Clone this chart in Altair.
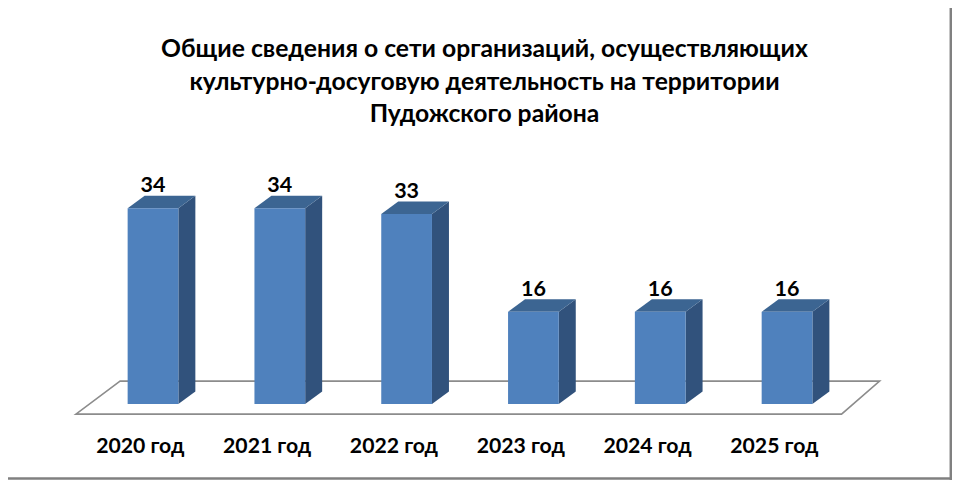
import altair as alt
import pandas as pd

categories = ["2020 год", "2021 год", "2022 год", "2023 год", "2024 год", "2025 год"]
values = [34, 34, 33, 16, 16, 16]
title_lines = [
    "Общие сведения о сети организаций, осуществляющих",
    "культурно-досуговую деятельность на территории",
    "Пудожского района",
]

FONT = "Lato"
# geometry of the pseudo-3D look, in data units
HALF = 0.2
DX = 0.134
DY = 2.17
x_scale = alt.Scale(domain=[-1.1435, 6.301], range=[0, 944], nice=False, zero=False)
y_scale = alt.Scale(domain=[-13.19, 68.75], range=[472, 0], nice=False, zero=False)
X = alt.X("x:Q", scale=x_scale, axis=None)
Y = alt.Y("y:Q", scale=y_scale, axis=None)

side, top, front = [], [], []
for i, (c, v) in enumerate(zip(categories, values)):
    l, r = i - HALF, i + HALF
    front.append({"c": c, "x": l, "x2": r, "y": v, "y2": 0})
    side.append({"c": c, "x": r, "y": v, "y2": 0})
    side.append({"c": c, "x": r + DX, "y": v + DY, "y2": DY})
    top.append({"c": c, "y": v, "x": l, "x2": r})
    top.append({"c": c, "y": v + DY, "x": l + DX, "x2": r + DX})

floor_df = pd.DataFrame([
    {"y": -1.75, "x": -0.608, "x2": 5.43},
    {"y": 3.97, "x": -0.26, "x2": 5.73},
])
floor = alt.Chart(floor_df).mark_area(
    orient="horizontal", fill="white", stroke="#8c8c8c", strokeWidth=1.6
).encode(y=Y, x=X, x2="x2:Q")

side_layer = alt.Chart(pd.DataFrame(side)).mark_area(color="#31527c").encode(
    x=X, y=Y, y2="y2:Q", detail="c:N"
)
top_layer = alt.Chart(pd.DataFrame(top)).mark_area(orient="horizontal", color="#3c6592").encode(
    y=Y, x=X, x2="x2:Q", detail="c:N"
)
front_layer = alt.Chart(pd.DataFrame(front)).mark_rect(color="#4f81bd").encode(
    x=X, x2="x2:Q", y=Y, y2="y2:Q"
)

labels_df = pd.DataFrame({"x": list(range(6)), "y": values, "t": [str(v) for v in values]})
value_labels = alt.Chart(labels_df).mark_text(
    font=FONT, fontWeight="bold", fontSize=21.5, color="black", dy=-16, baseline="alphabetic"
).encode(x=X, y=Y, text="t:N")

ticks_df = pd.DataFrame({"x": [i - 0.1 for i in range(6)], "y": [-8.5] * 6, "t": categories})
tick_labels = alt.Chart(ticks_df).mark_text(
    font=FONT, fontWeight="bold", fontSize=21.2, color="black", baseline="alphabetic"
).encode(x=X, y=Y, text="t:N")

right_border = alt.Chart(pd.DataFrame({"a": [0]})).mark_rule(color="#808080", strokeWidth=2.5).encode(
    x=alt.value(942.8), y=alt.value(0), y2=alt.value(472)
)
bottom_border = alt.Chart(pd.DataFrame({"a": [0]})).mark_rule(color="#808080", strokeWidth=2.5).encode(
    y=alt.value(470.5), x=alt.value(0), x2=alt.value(944)
)

chart = alt.layer(
    floor, side_layer, top_layer, front_layer, value_labels, tick_labels, right_border, bottom_border
).properties(
    width=944,
    height=472,
    padding=0,
    autosize=alt.AutoSizeParams(type="none"),
    background="white",
    title=alt.TitleParams(
        text=title_lines, anchor="middle", font=FONT, fontWeight="bold", fontSize=24.7,
        lineHeight=32.5, color="black", dy=124, dx=4.5,
    ),
).configure_view(stroke=None)

chart.save("out.html", embed_options={"renderer": "svg", "actions": False})
